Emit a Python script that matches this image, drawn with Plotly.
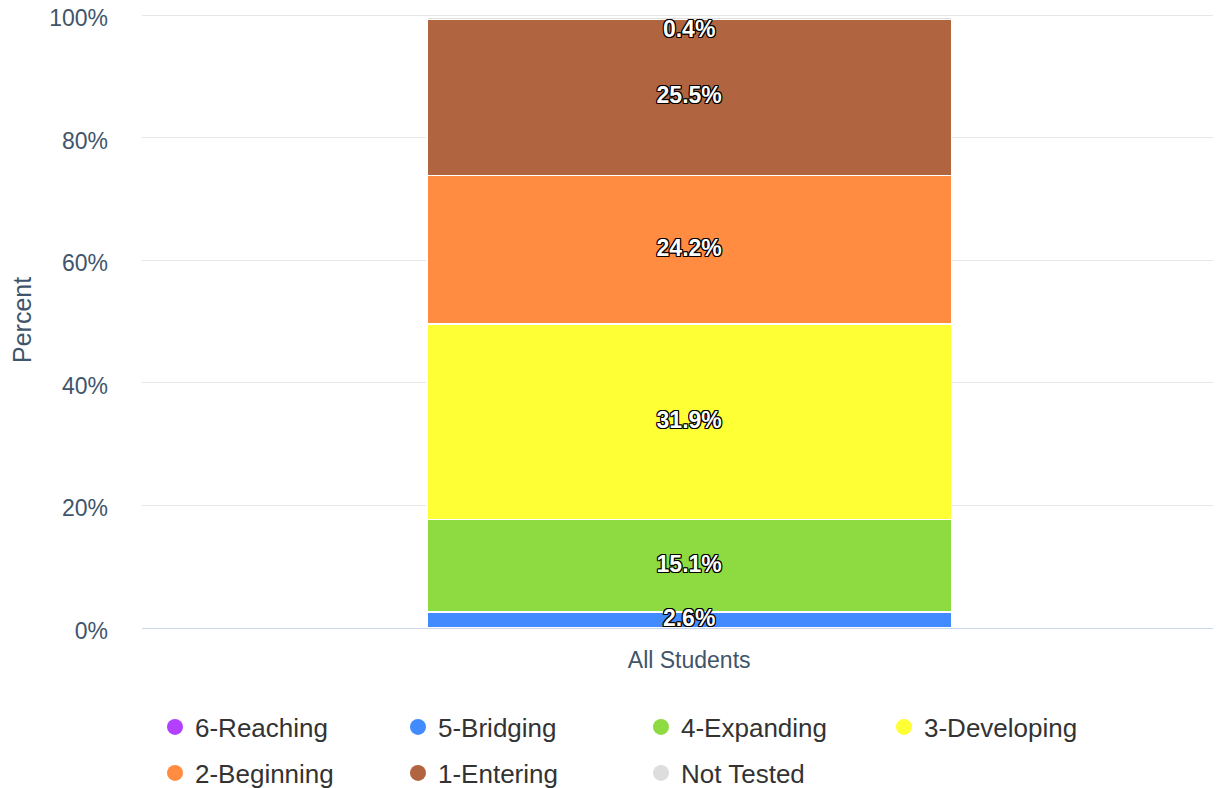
import plotly.graph_objects as go

category = "All Students"
levels = ["6-Reaching", "5-Bridging", "4-Expanding", "3-Developing", "2-Beginning", "1-Entering", "Not Tested"]
values = [0.0, 2.6, 15.1, 31.9, 24.2, 25.5, 0.4]
colors = ["#B440FF", "#428BFF", "#8DDB41", "#FFFF35", "#FF8C40", "#B06540", "#DDDDDD"]

TICK_COLOR = "#3f556b"
FONT = "Liberation Sans, Arial, sans-serif"
OUTLINE = ", ".join(f"{dx}px {dy}px 0 #000" for dx, dy in
                    [(-1, -1), (1, -1), (-1, 1), (1, 1), (0, 1), (0, -1), (1, 0), (-1, 0)])

W, H = 1213, 780  # page body has an 8px margin

fig = go.Figure()

cum = 0.0
label_x, label_y, label_t = [], [], []
for name, v, c in zip(levels, values, colors):
    fig.add_trace(go.Bar(
        x=[category], y=[v], name=name,
        marker=dict(color=c, line=dict(color="white", width=1.5)),
        showlegend=False, hoverinfo="skip"))
    if v > 0:
        mid = cum + v / 2
        label_x.append(category)
        label_y.append(min(mid, 100 - 2.7))
        label_t.append(f"{v:.1f}%")
    cum += v

fig.add_trace(go.Scatter(
    x=label_x, y=label_y, text=label_t, mode="text", showlegend=False, hoverinfo="skip",
    cliponaxis=False,
    textfont=dict(family=FONT, size=23, color="#ffffff", weight="bold", shadow=OUTLINE)))

# legend entries as circles, split over two rows (two legends)
for k, (name, c) in enumerate(zip(levels, colors)):
    fig.add_trace(go.Scatter(
        x=[None], y=[None], mode="markers", name=name,
        legend="legend" if k < 4 else "legend2",
        marker=dict(symbol="circle", size=22, color=c), hoverinfo="skip"))

legend_common = dict(orientation="h", xref="container", yref="container",
                     xanchor="left", yanchor="middle", traceorder="normal",
                     entrywidth=198, entrywidthmode="pixels",
                     font=dict(size=26, color="#333333", family=FONT),
                     itemsizing="trace", bgcolor="rgba(0,0,0,0)")

fig.update_layout(
    width=W, height=H,
    barmode="stack", bargap=0.521,
    plot_bgcolor="white", paper_bgcolor="white",
    margin=dict(l=134, r=0, t=4, b=160, autoexpand=False),
    font=dict(family=FONT, color=TICK_COLOR),
    legend=dict(x=147 / W, y=1 - 719 / H, **legend_common),
    legend2=dict(x=147 / W, y=1 - 765 / H, **legend_common),
    xaxis=dict(type="category", range=[-0.5, 0.486], showgrid=False, showline=True,
               linecolor="#ccd6eb", linewidth=1, ticks="", tickfont=dict(size=23, color=TICK_COLOR),
               ticklabelstandoff=11),
    yaxis=dict(range=[0, 100.5], tickvals=[0, 20, 40, 60, 80, 100],
               ticktext=["0%", "20%", "40%", "60%", "80%", "100%"],
               ticklabeloverflow="allow", ticklabelshift=3,
               showgrid=True, gridcolor="#e6e6e6", gridwidth=1, zeroline=False,
               tickfont=dict(size=23, color=TICK_COLOR), ticklabelstandoff=33),
    annotations=[dict(text="Percent", textangle=-90, xref="paper", yref="paper",
                      x=0, y=0.5, xanchor="center", yanchor="middle", xshift=-120,
                      showarrow=False, font=dict(size=25, color=TICK_COLOR, family=FONT))],
)

fig.write_html("out.html")
